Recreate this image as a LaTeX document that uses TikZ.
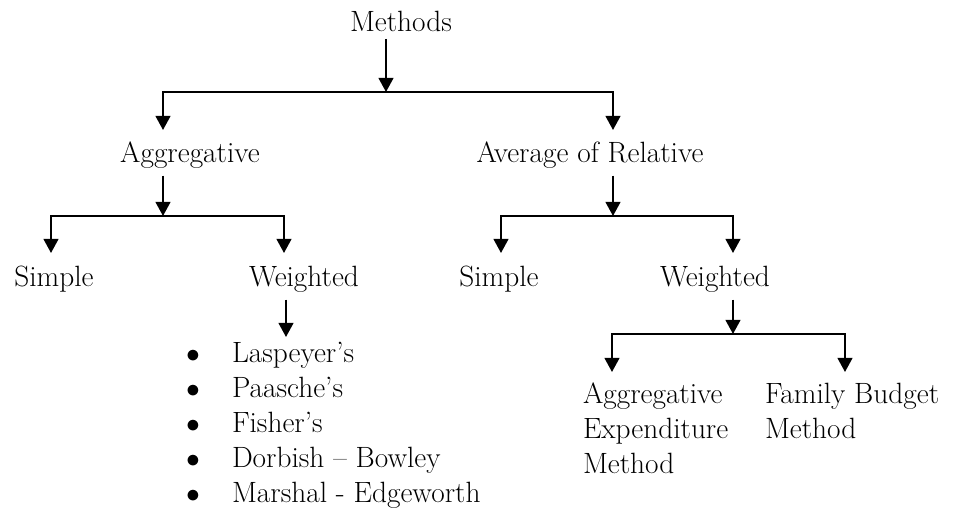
\documentclass[tikz,border=0pt]{standalone}
\usepackage{fontspec}
\usetikzlibrary{arrows.meta}

\tikzset{
  lbl/.style={inner sep=0pt, outer sep=5pt, anchor=base,
    font=\fontsize{22}{26.25}\selectfont},
  arr/.style={line width=1.5pt, -{Triangle[length=10.5pt,width=11pt]}},
}

\begin{document}
\begin{tikzpicture}[x=0.75pt,y=-0.75pt]
\useasboundingbox (0,0) rectangle (954,513);

% levels of the tree
\node[lbl] (methods) at (401,32) {Methods};
\node[lbl] (agg) at (190,163) {Aggregative};
\node[lbl] (avg) at (590,163) {Average of Relative};
\node[lbl] (simpleA) at (54,287) {Simple};
\node[lbl] (weightA) at (304,287) {Weighted};
\node[lbl] (simpleB) at (499,287) {Simple};
\node[lbl] (weightB) at (715,287) {Weighted};
\node[lbl, outer sep=0pt, anchor=north west, align=left] (aem) at (583,383) {Aggregative\\Expenditure\\Method};
\node[lbl, outer sep=0pt, anchor=north west, align=left] (fbm) at (765,383) {Family Budget\\Method};

% list under the weighted aggregative
\foreach \t [count=\i] in {Laspeyer's, Paasche's, Fisher's, Dorbish -- Bowley, Marshal - Edgeworth}{
  \node[lbl, outer sep=0pt, anchor=base west] (item\i) at (232,328+35*\i) {\t};
  \node[lbl] (dot\i) at (193,328+35*\i) {$\bullet$};
}

% junctions and arrow tips
\coordinate (j0) at (386,92);
\coordinate (tA) at (163,130);
\coordinate (tB) at (613,130);
\coordinate (jA) at (163,216);
\coordinate (tA1) at (51,253);
\coordinate (tA2) at (284,253);
\coordinate (jB) at (613,216);
\coordinate (tB1) at (501,253);
\coordinate (tB2) at (733,253);
\coordinate (tW) at (286,337);
\coordinate (jC) at (733,334);
\coordinate (tC1) at (612,372);
\coordinate (tC2) at (845,372);

\draw[arr] (methods.south -| j0) -- (j0);
\draw[arr] (j0) -| (tA);
\draw[arr] (j0) -| (tB);

\draw[arr] (agg.south -| jA) -- (jA);
\draw[arr] (jA) -| (tA1);
\draw[arr] (jA) -| (tA2);

\draw[arr] (avg.south -| jB) -- (jB);
\draw[arr] (jB) -| (tB1);
\draw[arr] (jB) -| (tB2);

\draw[arr] (weightA.south -| tW) -- (tW);

\draw[arr] (weightB.south -| jC) -- (jC);
\draw[arr] (jC) -| (tC1);
\draw[arr] (jC) -| (tC2);

\end{tikzpicture}
\end{document}
